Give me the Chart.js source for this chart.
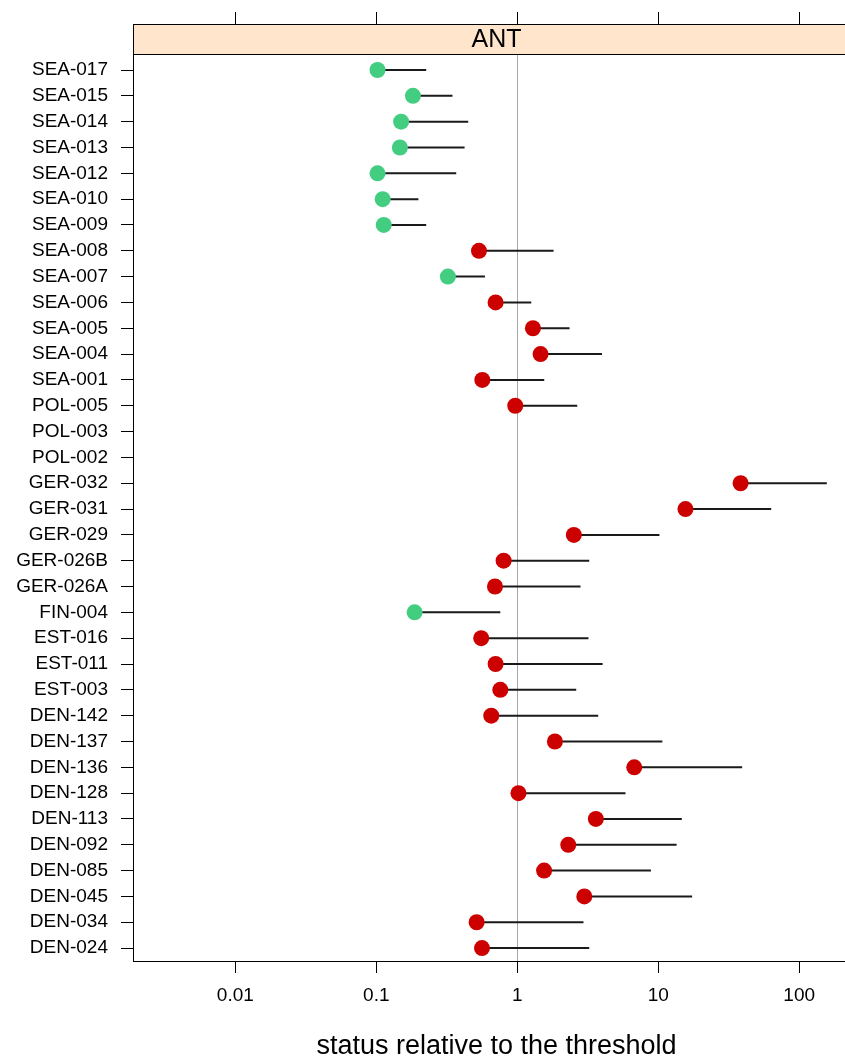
<!DOCTYPE html>
<html>
<head>
<meta charset="utf-8">
<script src="https://cdn.jsdelivr.net/npm/chart.js@4"></script>
<style>
html,body{margin:0;padding:0;overflow:hidden;background:#fff;}
canvas{display:block;}
</style>
</head>
<body>
<canvas id="c" width="880" height="1057"></canvas>
<script>
// ---- data ----
const panelTitle = "ANT";
const xTitle = "status relative to the threshold";
const categories = ["SEA-017","SEA-015","SEA-014","SEA-013","SEA-012","SEA-010","SEA-009","SEA-008","SEA-007","SEA-006","SEA-005","SEA-004","SEA-001","POL-005","POL-003","POL-002","GER-032","GER-031","GER-029","GER-026B","GER-026A","FIN-004","EST-016","EST-011","EST-003","DEN-142","DEN-137","DEN-136","DEN-128","DEN-113","DEN-092","DEN-085","DEN-045","DEN-034","DEN-024"];
const statusValues = [0.102,0.182,0.150,0.147,0.102,0.111,0.113,0.535,0.322,0.702,1.292,1.463,0.565,0.968,null,null,38.4,15.6,2.52,0.80,0.695,0.187,0.555,0.702,0.758,0.654,1.85,6.76,1.02,3.61,2.30,1.55,2.99,0.515,0.562];
const upperValues  = [0.226,0.347,0.449,0.423,0.369,0.199,0.226,1.81,0.590,1.257,2.35,3.99,1.554,2.665,null,null,157,63.3,10.2,3.24,2.81,0.758,3.20,4.03,2.62,3.75,10.7,39.4,5.86,14.7,13.5,8.88,17.4,2.95,3.24];
const xTickValues = [0.01, 0.1, 1, 10, 100];
const xMin = 0.00188, xMax = 270;
const yMin = 0.38, yMax = 35.5;
const referenceValue = 1;

// ---- styles ----
const GREEN = "#43CD80", RED = "#CD0000";
const FONT = "'Liberation Sans', Arial, sans-serif";

const pts = [], ptColors = [], segs = [];
categories.forEach((c, i) => {
  const v = statusValues[i], u = upperValues[i];
  if (v == null) return;
  pts.push({x: v, y: i + 1});
  ptColors.push(u < referenceValue ? GREEN : RED);
  segs.push({x: v, y: i + 1}, {x: u, y: i + 1}, {x: u, y: null});
});

const stripPlugin = {
  id: 'strip',
  afterDraw(chart) {
    const {ctx, chartArea} = chart;
    const top = 24, bottom = chartArea.top;
    ctx.save();
    ctx.fillStyle = '#FFE5CC';
    ctx.fillRect(chartArea.left, top, chartArea.right - chartArea.left, bottom - top);
    ctx.strokeStyle = '#000';
    ctx.lineWidth = 1;
    ctx.strokeRect(chartArea.left + 0.5, top + 0.5, chartArea.right - chartArea.left, bottom - top);
    ctx.fillStyle = '#000';
    ctx.font = "25px " + FONT;
    ctx.textAlign = 'center';
    ctx.textBaseline = 'middle';
    ctx.fillText(panelTitle, (chartArea.left + chartArea.right) / 2, 40);
    ctx.restore();
  }
};

const setXTicks = s => { s.ticks = xTickValues.map(v => ({value: v})); };

new Chart(document.getElementById('c'), {
  type: 'scatter',
  data: {
    datasets: [
      {
        data: segs, showLine: true, spanGaps: false, pointRadius: 0,
        borderColor: '#1a1a1a', borderWidth: 2, order: 2
      },
      {
        data: pts, pointRadius: 8, pointHoverRadius: 8, pointBorderWidth: 0,
        pointBackgroundColor: ptColors, pointBorderColor: ptColors, order: 1
      }
    ]
  },
  options: {
    responsive: false, animation: false, devicePixelRatio: 1,
    layout: {padding: {left: 0, right: 20, top: 0, bottom: 0}},
    plugins: {legend: {display: false}, tooltip: {enabled: false}},
    scales: {
      x: {
        type: 'logarithmic', position: 'bottom', min: xMin, max: xMax, bounds: 'data',
        afterBuildTicks: setXTicks,
        afterFit: s => { s.height = 96; },
        grid: {
          drawOnChartArea: true, drawTicks: true, tickLength: 12, lineWidth: 1,
          color: c => (c.tick && c.tick.value === referenceValue) ? '#a8a8a8' : 'rgba(0,0,0,0)',
          tickColor: '#000'
        },
        border: {display: true, color: '#000', width: 1},
        ticks: {
          color: '#000', font: {family: FONT, size: 19}, padding: 11,
          maxRotation: 0, autoSkip: false, callback: v => String(v)
        },
        title: {display: true, text: xTitle, color: '#000', font: {family: FONT, size: 27, lineHeight: 0.8}, padding: 0}
      },
      xTop: {
        type: 'logarithmic', position: 'top', axis: 'x', min: xMin, max: xMax, bounds: 'data',
        afterBuildTicks: setXTicks,
        afterFit: s => { s.height = 54; },
        grid: {drawOnChartArea: false, drawTicks: true, tickLength: 42, tickColor: '#000'},
        border: {display: true, color: '#000', width: 1},
        ticks: {display: false}
      },
      y: {
        type: 'linear', reverse: true, min: yMin, max: yMax, bounds: 'data',
        afterBuildTicks: s => { s.ticks = categories.map((c, i) => ({value: i + 1})); },
        afterFit: s => { s.width = 133; },
        grid: {drawOnChartArea: false, drawTicks: true, tickLength: 12, tickColor: '#000'},
        border: {display: true, color: '#000', width: 1},
        ticks: {
          color: '#000', font: {family: FONT, size: 19}, padding: 13, autoSkip: false,
          callback: v => categories[Math.round(v) - 1]
        }
      }
    }
  },
  plugins: [stripPlugin]
});
</script>
</body>
</html>
